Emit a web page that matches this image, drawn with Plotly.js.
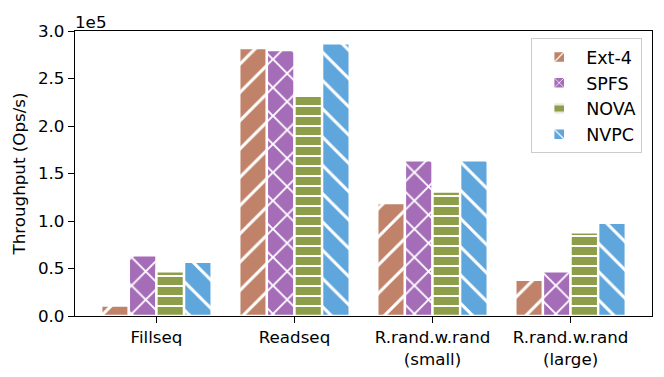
<!DOCTYPE html>
<html>
<head>
<meta charset="utf-8">
<script src="https://cdn.plot.ly/plotly-3.0.1.min.js"></script>
<style>
  html, body { margin: 0; padding: 0; background: #fff; }
  #chart { width: 664px; height: 377px; }
</style>
</head>
<body>
<div id="chart"></div>
<script>
// workloads on the x axis
var workloads = ['Fillseq', 'Readseq', 'R.rand.w.rand<br>(small)', 'R.rand.w.rand<br>(large)'];

// throughput per file system (ops/s)
var ext4 = [11000, 282000, 119000, 38000];
var spfs = [64000, 280000, 164000, 47000];
var nova = [47000, 234000, 131000, 88000];
var nvpc = [57000, 287000, 164000, 98000];

var yTicks = [0, 50000, 100000, 150000, 200000, 250000, 300000];
var yTickText = ['0.0', '0.5', '1.0', '1.5', '2.0', '2.5', '3.0'];

var FONT = 'DejaVu Sans, sans-serif';
var FS = 16.7;

function series(name, vals, color, shape, size, solid) {
  return {
    type: 'bar',
    name: name,
    x: [0, 1, 2, 3],
    y: vals,
    marker: {
      color: color,
      line: { color: '#ffffff', width: 2.4 },
      pattern: { shape: shape, size: size, solidity: solid, fgcolor: '#ffffff', fgopacity: 1, fillmode: 'overlay' }
    }
  };
}

var data = [
  series('Ext-4', ext4, '#c08268', '/', 20, 0.15),
  series('SPFS', spfs, '#a56cb8', 'x', 20, 0.18),
  series('NOVA', nova, '#8d9e4a', '-', 10, 0.2),
  series('NVPC', nvpc, '#5fa6dc', '\\', 20, 0.15)
];

var layout = {
  width: 664,
  height: 377,
  margin: { l: 75, r: 12, t: 31, b: 61 },
  paper_bgcolor: '#ffffff',
  plot_bgcolor: '#ffffff',
  font: { family: FONT, size: FS, color: '#000' },
  barmode: 'group',
  bargap: 0.2,
  bargroupgap: 0,
  showlegend: true,
  legend: {
    x: 0.983, y: 0.975, xanchor: 'right', yanchor: 'top',
    bgcolor: 'rgba(255,255,255,0.8)',
    bordercolor: '#cccccc', borderwidth: 1,
    font: { family: FONT, size: 17.5 },
    itemwidth: 44,
    tracegroupgap: 2
  },
  xaxis: {
    range: [-0.59, 3.59],
    tickmode: 'array',
    tickvals: [0, 1, 2, 3],
    ticktext: workloads,
    ticks: 'outside', ticklen: 6, tickwidth: 1.3, tickcolor: '#000',
    showline: true, mirror: true, linecolor: '#000', linewidth: 1.3,
    showgrid: false, zeroline: false,
    tickfont: { family: FONT, size: FS }
  },
  yaxis: {
    range: [0, 300000],
    tickmode: 'array',
    tickvals: yTicks,
    ticktext: yTickText,
    ticks: 'outside', ticklen: 6, tickwidth: 1.3, tickcolor: '#000',
    showline: true, mirror: true, linecolor: '#000', linewidth: 1.3,
    showgrid: false, zeroline: false,
    tickfont: { family: FONT, size: FS },
    title: { text: 'Throughput (Ops/s)', font: { family: FONT, size: FS }, standoff: 8 }
  },
  annotations: [{
    text: '1e5', xref: 'paper', yref: 'paper', x: 0, y: 1,
    xanchor: 'left', yanchor: 'bottom', showarrow: false,
    font: { family: FONT, size: FS }, xshift: -2, yshift: -3
  }]
};

Plotly.newPlot('chart', data, layout, { displayModeBar: false, responsive: false });
</script>
</body>
</html>
